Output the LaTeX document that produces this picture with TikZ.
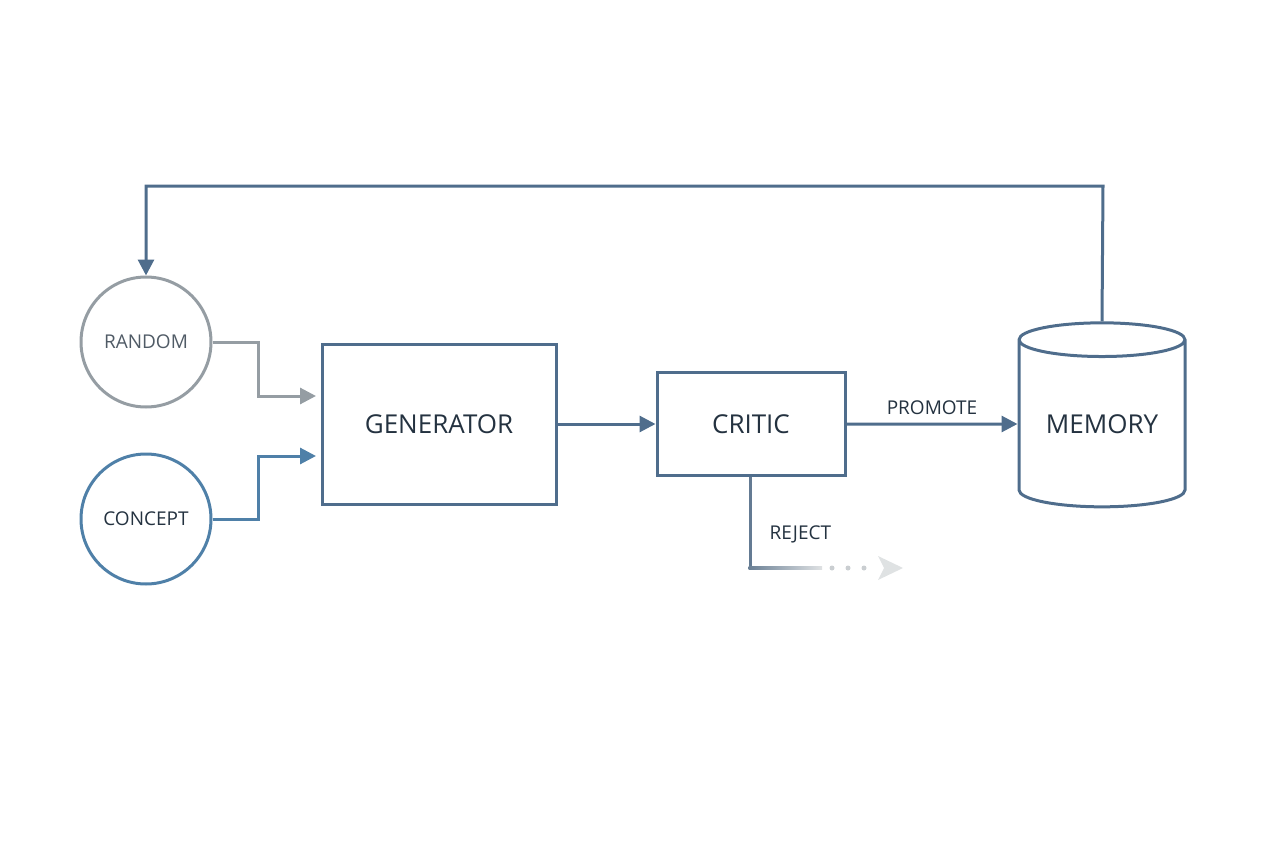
\documentclass[tikz,border=0pt]{standalone}
\usepackage{fontspec}
\setmainfont{Roboto}
\setmainfont{Open Sans}
\usetikzlibrary{arrows.meta,shapes.geometric,fadings}
\definecolor{ln}{HTML}{4F6D8C}
\definecolor{gr}{HTML}{959DA3}
\definecolor{bl}{HTML}{4F80A8}
\definecolor{tx}{HTML}{243240}
\begin{document}
\begin{tikzpicture}[x=1pt,y=-1pt,
  conn/.style={line width=3pt,draw=ln,-{Triangle[length=16pt,width=16pt]}},
  boxs/.style={draw=ln,line width=3pt,minimum width=#1,inner sep=0pt},
  lbl/.style={text=tx,font=\fontsize{20}{24}\selectfont}]
\useasboundingbox (0,0) rectangle (1264,848);
\node[circle,draw=gr,line width=3pt,minimum size=130pt,text=tx!80,font=\fontsize{19}{22}\selectfont] (rand) at (146,342) {RANDOM};
\node[circle,draw=bl,line width=3pt,minimum size=130pt,text=tx,font=\fontsize{19}{22}\selectfont] (conc) at (146,519) {CONCEPT};
\node[boxs=234pt,minimum height=160pt,lbl,font=\fontsize{26}{30}\selectfont] (gen) at (439,424) {GENERATOR};
\node[boxs=188pt,minimum height=103pt,lbl,font=\fontsize{26}{30}\selectfont] (crit) at (751,424) {CRITIC};
\node[cylinder,shape border rotate=90,aspect=0.3,draw=ln,line width=3pt,minimum width=166pt,minimum height=184pt,lbl,font=\fontsize{26}{30}\selectfont,inner sep=0pt] (mem) at (1102,424) {MEMORY};
\coordinate (g1) at (316,396);
\coordinate (g2) at (316,456);
\draw[conn,draw=gr,-{Triangle[length=16pt,width=16pt,fill=gr]}] (rand.east) -- (258,342) |- (g1);
\draw[conn,draw=bl] (conc.east) -- (258,519) |- (g2);
\draw[conn] (gen.east) -- (crit.west);
\draw[conn] (crit.east) -- node[above=4pt,lbl,font=\fontsize{19}{22}\selectfont]{PROMOTE} (mem.west);
\draw[conn] (mem.top) -- (1103,186) -- (146,186) -- (rand.north);
\coordinate (r1) at (750,568);
\coordinate (r2) at (822,568);
\draw[line width=3pt,draw=ln!70!gr] (crit.south -| r1) -- (r1);
\shade[left color=ln!60!gr,right color=gr!30] (748.5,566.5) rectangle (r2|-0,569.5);
\foreach \x in {832,848,864} \fill[gr!50] (\x,568) circle (2.5pt);
\fill[gr!30] (878,556) -- (903,568) -- (878,580) -- (884,568) -- cycle;
\node[lbl,font=\fontsize{19}{22}\selectfont,anchor=west] (rej) at (766,534) {REJECT};
\end{tikzpicture}
\end{document}
